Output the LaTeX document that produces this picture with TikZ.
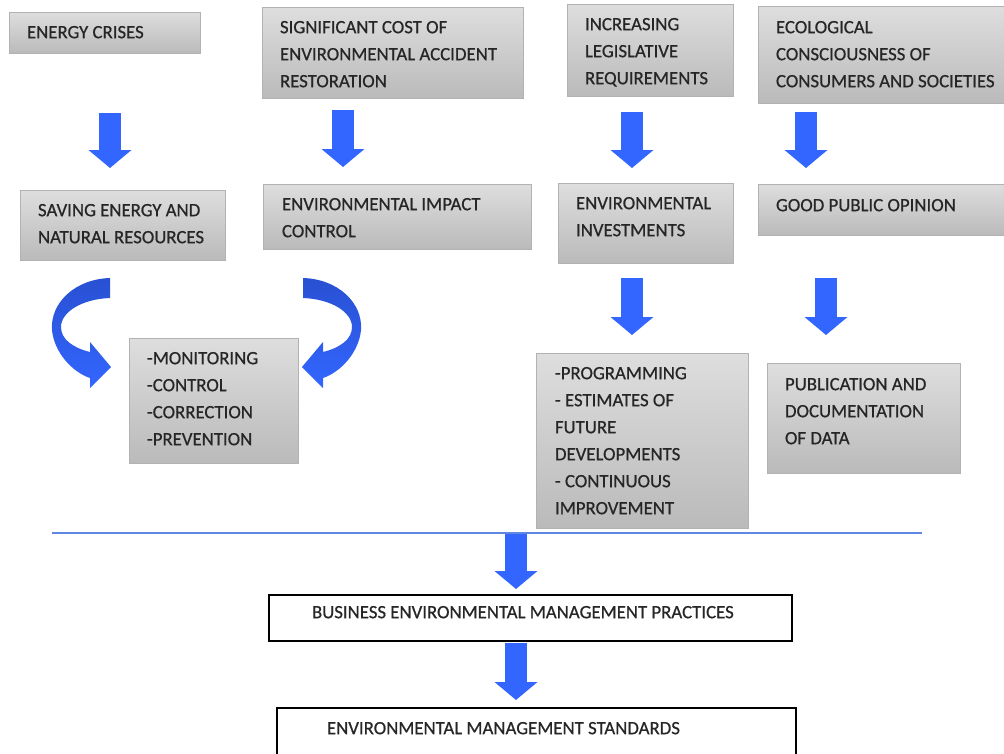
\documentclass[tikz,border=0pt]{standalone}
\usepackage{fontspec}
\setmainfont{Carlito}
\newfontfamily\boxfont[FakeBold=0.6]{Carlito}
\usetikzlibrary{arrows.meta}
\definecolor{arrowblue}{RGB}{51,102,255}
\definecolor{arrowdark}{RGB}{40,80,210}
\definecolor{linecol}{RGB}{95,135,230}
\definecolor{txtcol}{RGB}{38,38,38}
\tikzset{
  gbox/.style={draw=black!30, line width=0.6pt, top color=black!13, bottom color=black!27,
    inner sep=0pt, outer sep=0pt, anchor=north west},
  wbox/.style={draw=black, line width=1.8pt, fill=white, inner sep=0pt, outer sep=0pt, anchor=north west},
  txt/.style={text=txtcol, font=\boxfont\fontsize{18.8}{27}\selectfont, align=left,
    inner sep=0pt, outer sep=0pt, anchor=north west},
  barrow/.style={draw=arrowblue, line width=22pt,
    -{Triangle[width=42pt,length=18pt]}, arrowblue},
}
\begin{document}
\begin{tikzpicture}[x=1pt,y=-1pt]
\useasboundingbox (0,0) rectangle (1004,753);
\clip (0,0) rectangle (1004,753);
% gray boxes
\node[gbox, minimum width=191pt, minimum height=41pt] (b1) at (9,12) {};
\node[gbox, minimum width=261pt, minimum height=91pt] (b2) at (262,7) {};
\node[gbox, minimum width=166pt, minimum height=92pt] (b3) at (567,4) {};
\node[gbox, minimum width=252pt, minimum height=97pt] (b4) at (758,6) {};
\node[gbox, minimum width=205pt, minimum height=70pt] (b5) at (20,190) {};
\node[gbox, minimum width=268pt, minimum height=65pt] (b6) at (263,184) {};
\node[gbox, minimum width=175pt, minimum height=80pt] (b7) at (558,183) {};
\node[gbox, minimum width=252pt, minimum height=51pt] (b8) at (758,184) {};
\node[gbox, minimum width=169pt, minimum height=125pt] (b9) at (129,338) {};
\node[gbox, minimum width=212pt, minimum height=175pt] (b10) at (536,353) {};
\node[gbox, minimum width=193pt, minimum height=110pt] (b11) at (767,363) {};
% texts
\node[txt] (t1) at ([shift={(18,14)}]b1.north west) {ENERGY CRISES};
\node[txt] (t2) at ([shift={(18,14)}]b2.north west) {SIGNIFICANT COST OF\\ENVIRONMENTAL ACCIDENT\\RESTORATION};
\node[txt] (t3) at ([shift={(18,14)}]b3.north west) {INCREASING\\LEGISLATIVE\\REQUIREMENTS};
\node[txt] (t4) at ([shift={(18,15)}]b4.north west) {ECOLOGICAL\\CONSCIOUSNESS OF\\CONSUMERS AND SOCIETIES};
\node[txt] (t5) at ([shift={(18,14)}]b5.north west) {SAVING ENERGY AND\\NATURAL RESOURCES};
\node[txt] (t6) at ([shift={(19,14)}]b6.north west) {ENVIRONMENTAL IMPACT\\CONTROL};
\node[txt] (t7) at ([shift={(18,14)}]b7.north west) {ENVIRONMENTAL\\INVESTMENTS};
\node[txt] (t8) at ([shift={(18,15)}]b8.north west) {GOOD PUBLIC OPINION};
\node[txt] (t9) at ([shift={(18,14)}]b9.north west) {-MONITORING\\-CONTROL\\-CORRECTION\\-PREVENTION};
\node[txt] (t10) at ([shift={(19,14)}]b10.north west) {-PROGRAMMING\\- ESTIMATES OF\\FUTURE\\DEVELOPMENTS\\- CONTINUOUS\\IMPROVEMENT};
\node[txt] (t11) at ([shift={(18,15)}]b11.north west) {PUBLICATION AND\\DOCUMENTATION\\OF DATA};
% separator line
\coordinate (l1) at (52,533);
\coordinate (l2) at (922,533);
\draw[linecol, line width=1.3pt] (l1) -- (l2);
% bottom boxes
\node[wbox, minimum width=523pt, minimum height=46pt] (b12) at (269,595) {};
\node[txt] (t12) at ([shift={(43,11)}]b12.north west) {BUSINESS ENVIRONMENTAL MANAGEMENT PRACTICES};
\node[wbox, minimum width=519pt, minimum height=70pt] (b13) at (277,708) {};
\node[txt] (t13) at ([shift={(50,14)}]b13.north west) {ENVIRONMENTAL MANAGEMENT STANDARDS};
% straight arrows
\coordinate (a1s) at (110,113); \coordinate (a1e) at (110,168);
\coordinate (a2s) at (343,110); \coordinate (a2e) at (343,167);
\coordinate (a3s) at (632,112); \coordinate (a3e) at (632,168);
\coordinate (a4s) at (806,112); \coordinate (a4e) at (806,168);
\coordinate (a5s) at (632,278); \coordinate (a5e) at (632,335);
\coordinate (a6s) at (826,278); \coordinate (a6e) at (826,335);
\coordinate (a7s) at (516,534); \coordinate (a7e) at (516,589);
\coordinate (a8s) at (516,643); \coordinate (a8e) at (516,700);
\foreach \i in {1,...,8} { \draw[barrow] (a\i s) -- (a\i e); }
% curved arrows
\shade[top color=arrowdark, bottom color=arrowblue]
  (110,278) .. controls (75,279) and (50,303) .. (52,330)
  .. controls (54,352) and (72,372) .. (90,378) -- (90,388) -- (111,367) -- (90,342) -- (90,352)
  .. controls (74,348) and (61,340) .. (61,327)
  .. controls (61,312) and (82,299) .. (110,298) -- cycle;
\shade[top color=arrowdark, bottom color=arrowblue]
  (303,278) .. controls (338,279) and (363,303) .. (361,330)
  .. controls (359,352) and (341,372) .. (323,378) -- (323,388) -- (302,367) -- (323,342) -- (323,352)
  .. controls (339,348) and (352,340) .. (352,327)
  .. controls (352,312) and (331,299) .. (303,298) -- cycle;
\end{tikzpicture}
\end{document}
